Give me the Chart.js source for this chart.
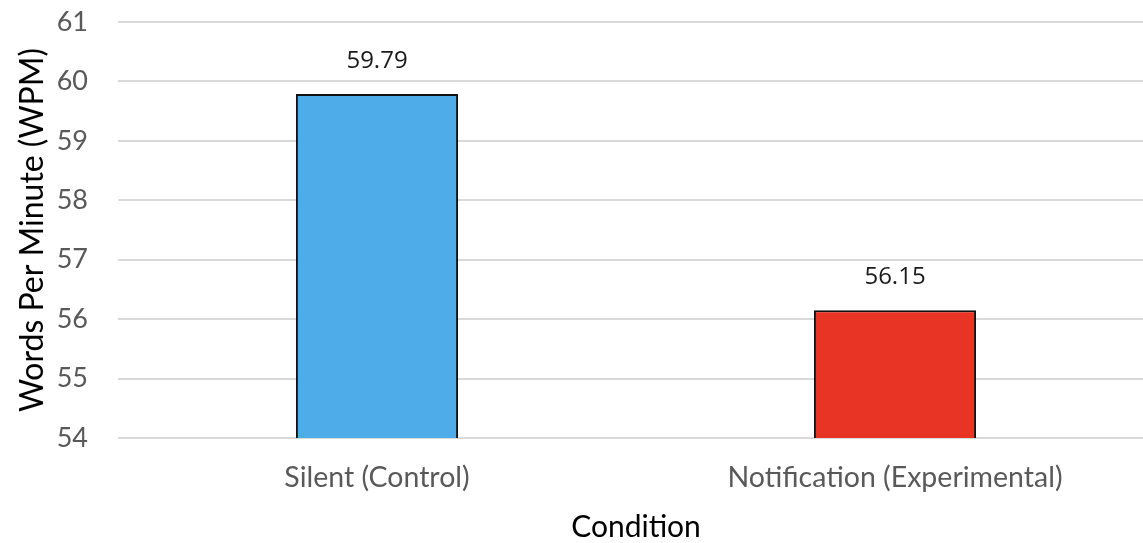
<!DOCTYPE html>
<html>
<head>
<meta charset="utf-8">
<script src="https://cdn.jsdelivr.net/npm/chart.js@4"></script>
<style>
html,body{margin:0;padding:0;background:#fff;overflow:hidden;}
#wrap{width:1160px;height:543px;position:relative;}
</style>
</head>
<body>
<div id="wrap"><canvas id="c" width="1160" height="543"></canvas></div>
<script>
const categories = ["Silent (Control)", "Notification (Experimental)"];
const wpmValues = [59.79, 56.15];
const barColors = ["#4EACE9", "#E83424"];
const yTicks = [54, 55, 56, 57, 58, 59, 60, 61];
const valueLabels = ["59.79", "56.15"];

const axisFont = "Lato, 'Open Sans', sans-serif";

const valueLabelPlugin = {
  id: 'valueLabels',
  afterDatasetsDraw(chart) {
    const ctx = chart.ctx;
    const meta = chart.getDatasetMeta(0);
    ctx.save();
    ctx.font = "24px 'Open Sans', sans-serif";
    ctx.fillStyle = "#1a1a1a";
    ctx.textAlign = "center";
    ctx.textBaseline = "middle";
    meta.data.forEach((bar, i) => {
      ctx.fillText(valueLabels[i], bar.x, bar.y - 33);
    });
    ctx.restore();
  }
};

new Chart(document.getElementById('c'), {
  type: 'bar',
  data: {
    labels: categories,
    datasets: [{
      data: wpmValues,
      backgroundColor: barColors,
      borderColor: "#111111",
      borderWidth: 2,
      borderSkipped: 'bottom',
      categoryPercentage: 1,
      barPercentage: 0.313
    }]
  },
  options: {
    responsive: false,
    animation: false,
    devicePixelRatio: 1,
    layout: { padding: { top: 22, right: 6, left: 0, bottom: 0 } },
    plugins: { legend: { display: false }, tooltip: { enabled: false } },
    scales: {
      x: {
        grid: { display: false, drawTicks: false },
        border: { display: false },
        ticks: { color: "#595959", font: { family: axisFont, size: 28.5 }, padding: 23, maxRotation: 0 },
        title: { display: true, text: "Condition", color: "#000", font: { family: axisFont, size: 30 }, padding: { top: 0, bottom: -2 } },
        afterFit(scale) { scale.height = 105; scale.paddingLeft = 0; scale.paddingRight = 0; }
      },
      y: {
        min: 54, max: 61,
        afterBuildTicks(scale) { scale.ticks = yTicks.map(v => ({ value: v })); },
        grid: { color: "#d9d9d9", lineWidth: 2, drawTicks: false },
        border: { display: false },
        ticks: { color: "#595959", font: { family: axisFont, size: 27 }, padding: 30 },
        title: { display: true, text: "Words Per Minute (WPM)", color: "#000", font: { family: axisFont, size: 32 }, padding: { top: 13, bottom: 0 } },
        afterFit(scale) { scale.width = 118; scale.paddingTop = 0; scale.paddingBottom = 0; }
      }
    }
  },
  plugins: [valueLabelPlugin]
});
</script>
</body>
</html>
